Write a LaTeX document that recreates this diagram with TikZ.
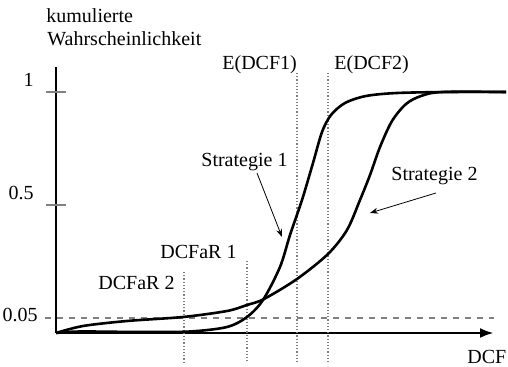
\documentclass[tikz,border=0pt]{standalone}
\usepackage{fontspec}
\setmainfont{Liberation Serif}
\usetikzlibrary{arrows.meta}
\tikzset{
	lbl/.style={anchor=base west, inner sep=0pt, font=\fontsize{10}{12}\selectfont},
	guide/.style={gray, densely dotted, line width=0.6pt},
	curve/.style={line width=1.3pt, line join=round},
	pointer/.style={line width=0.4pt, -{Stealth[length=4pt, width=3pt]}}
}
\begin{document}
\begin{tikzpicture}[x=0.5pt, y=-0.5pt]
			\useasboundingbox (0, 0) rectangle (508, 367);
			% axes
			\coordinate (o) at (56, 333);
			\coordinate (ytop) at (56, 67);
			\coordinate (xend) at (494, 333);
			\draw[line width=1.4pt] (ytop) -- (o);
			\draw[line width=1.4pt, -{Latex[length=7pt, width=5pt]}] (o) -- (xend);
			% ticks
			\foreach \y/\t in {92/1, 205/0.5}
			{
				\draw[gray, line width=0.6pt] (46, \y) -- (66, \y);
				\node[lbl, anchor=base east] (tick\y) at (34, \y - 5) {\t};
			}
			\node[lbl, anchor=base east] (tick05) at (38, 322) {0.05};
			\draw[gray, dashed, line width=0.6pt] (45, 318) -- (494, 318);
			% guides
			\foreach \x/\ytop in {184/272, 247/261, 297/73, 328/73}
				\draw[guide] (\x, \ytop) -- (\x, 362);
			% curves
			\draw[curve] plot[smooth, tension=0.5] coordinates {(56, 333) (80, 331.5) (140, 332) (190, 331.5) (227, 327) (247, 317) (263, 300) (280, 267) (290, 235) (302, 200) (313, 163) (322, 132) (331, 115) (345, 103) (366, 96) (397, 93) (450, 92) (506, 92)};
			\draw[curve] plot[smooth, tension=0.5] coordinates {(56, 333) (83, 326) (127, 321) (183, 317) (227, 311) (247, 305) (264, 299) (297, 279) (328, 254) (347, 230) (360, 200) (370, 175) (380, 147) (392, 121) (406, 104) (421, 96) (442, 92) (506, 92)};
			% labels
			\node[lbl] (kum) at (46, 23) {kumulierte};
			\node[lbl] (wahr) at (47, 46) {Wahrscheinlichkeit};
			\node[lbl] (e1) at (222, 70) {E(DCF1)};
			\node[lbl] (e2) at (334, 70) {E(DCF2)};
			\node[lbl] (s1) at (201, 167) {Strategie 1};
			\node[lbl] (s2) at (391, 181) {Strategie 2};
			\node[lbl] (dcfar1) at (160, 259) {DCFaR 1};
			\node[lbl] (dcfar2) at (98, 290) {DCFaR 2};
			\node[lbl] (dcf) at (467, 364) {DCF};
			% pointers
			\coordinate (p1) at (282, 237);
			\coordinate (p2) at (370, 213);
			\draw[pointer] (257, 173) -- (p1);
			\draw[pointer] (436, 193) -- (p2);
		\end{tikzpicture}
\end{document}
